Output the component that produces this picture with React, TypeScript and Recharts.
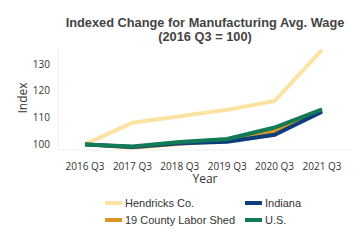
import React from 'react';
import { LineChart, Line, XAxis, YAxis } from 'recharts';

const quarters = ['2016 Q3', '2017 Q3', '2018 Q3', '2019 Q3', '2020 Q3', '2021 Q3'];
const hendricks = [100, 108.1, 110.5, 112.9, 116.2, 135.3];
const laborShed = [100, 98.8, 100.2, 101.4, 104.8, 112.6];
const indiana = [100, 99.0, 100.4, 101.0, 103.6, 112.2];
const us = [100, 99.2, 100.9, 102.0, 106.3, 113.1];
const yTicks = [100, 110, 120, 130];

const series = [
    { key: 'hendricks', name: 'Hendricks Co.', color: '#FBE3A2' },
    { key: 'laborShed', name: '19 County Labor Shed', color: '#D9961F' },
    { key: 'indiana', name: 'Indiana', color: '#0D3D7E' },
    { key: 'us', name: 'U.S.', color: '#127A56' },
];
const legendOrder = ['Hendricks Co.', 'Indiana', '19 County Labor Shed', 'U.S.'];

const data = quarters.map((q, i) => ({
    quarter: q,
    hendricks: hendricks[i],
    laborShed: laborShed[i],
    indiana: indiana[i],
    us: us[i],
}));

const textColor = '#333';
const sansFont = '"Liberation Sans", Arial, sans-serif';
const tickFont = '"Open Sans", sans-serif';

const ChartLegend = () => (
    <div
        style={{
            position: 'absolute',
            top: 196,
            left: 105,
            display: 'grid',
            gridTemplateColumns: '140px 100px',
            rowGap: 3,
            fontFamily: sansFont,
            fontSize: 11,
            color: textColor,
        }}
    >
        {legendOrder.map((name) => {
            const s = series.find((x) => x.name === name)!;
            return (
                <div key={name} style={{ display: 'flex', alignItems: 'center', height: 14 }}>
                    <span
                        style={{
                            display: 'inline-block',
                            width: 17,
                            height: 4,
                            background: s.color,
                            marginRight: 3,
                        }}
                    />
                    {name}
                </div>
            );
        })}
    </div>
);

export default function App() {
    return (
        <div style={{ position: 'relative', width: 360, height: 240, margin: -8, background: '#fff' }}>
            <LineChart
                width={360}
                height={240}
                data={data}
                margin={{ top: 48, right: 8, bottom: 65, left: 0 }}
            >
                <XAxis
                    dataKey="quarter"
                    padding={{ left: 27, right: 30 }}
                    tickLine={false}
                    axisLine={{ stroke: '#eee' }}
                    tickMargin={7}
                    interval={0}
                    height={25}
                    tick={{ fontFamily: tickFont, fontSize: 10, fill: textColor }}
                />
                <YAxis
                    width={58}
                    domain={[97.9, 136]}
                    ticks={yTicks}
                    allowDataOverflow
                    tickLine={false}
                    axisLine={{ stroke: '#eee' }}
                    tick={{ fontFamily: tickFont, fontSize: 10, fill: textColor }}
                />
                {series.map((s) => (
                    <Line
                        key={s.key}
                        dataKey={s.key}
                        name={s.name}
                        stroke={s.color}
                        strokeWidth={4}
                        dot={false}
                        activeDot={false}
                        isAnimationActive={false}
                    />
                ))}
            </LineChart>
            <div
                style={{
                    position: 'absolute',
                    top: 16,
                    left: 58,
                    width: 294,
                    textAlign: 'center',
                    fontFamily: sansFont,
                    fontWeight: 'bold',
                    fontSize: 12.8,
                    lineHeight: '14px',
                    color: '#444',
                }}
            >
                Indexed Change for Manufacturing Avg. Wage
                <br />
                (2016 Q3 = 100)
            </div>
            <div
                style={{
                    position: 'absolute',
                    left: 22,
                    top: 98,
                    transform: 'translate(-50%, -50%) rotate(-90deg)',
                    fontFamily: tickFont,
                    fontSize: 12,
                    color: textColor,
                }}
            >
                Index
            </div>
            <div
                style={{
                    position: 'absolute',
                    left: 205,
                    top: 178,
                    transform: 'translate(-50%, -50%)',
                    fontFamily: tickFont,
                    fontSize: 12,
                    color: textColor,
                }}
            >
                Year
            </div>
            <ChartLegend />
        </div>
    );
}
